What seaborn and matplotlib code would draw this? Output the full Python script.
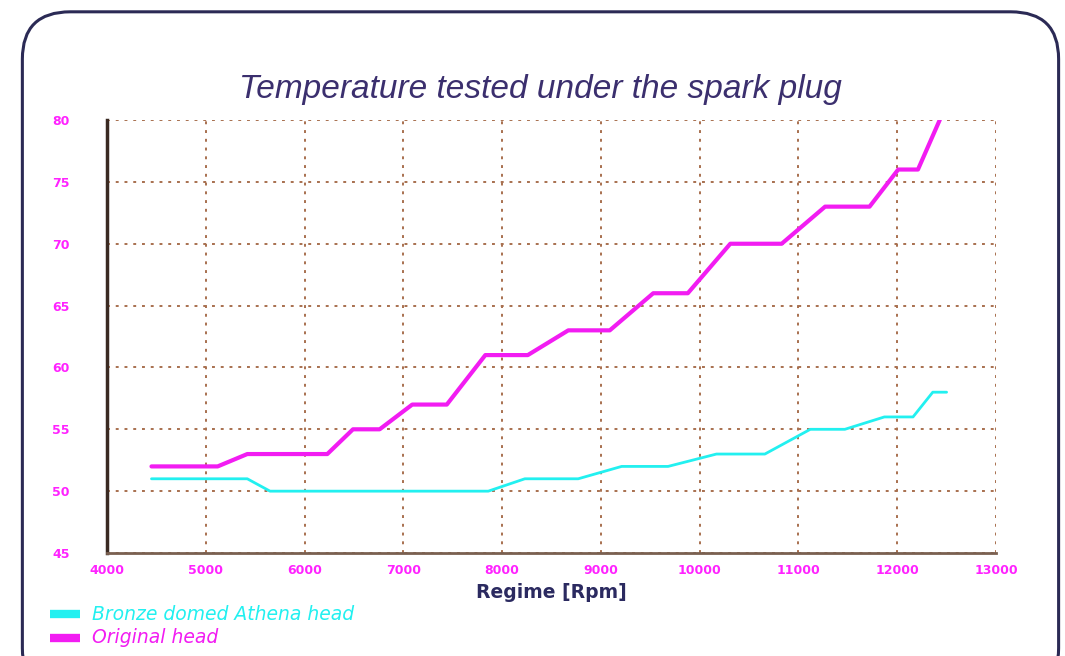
import numpy as np
import pandas as pd
import matplotlib
matplotlib.use('Agg')
import matplotlib.pyplot as plt
import seaborn as sns
from matplotlib.patches import FancyBboxPatch

bronze_rpm = [4450, 5420, 5650, 7860, 8230, 8770, 9210, 9680, 10170, 10660, 11120, 11470, 11870, 12160, 12360, 12500]
bronze_temp = [51, 51, 50, 50, 51, 51, 52, 52, 53, 53, 55, 55, 56, 56, 58, 58]
original_rpm = [4450, 5120, 5420, 6230, 6490, 6760, 7090, 7440, 7830, 8260, 8670, 9090, 9530, 9880, 10310, 10830, 11270, 11720, 12010, 12210, 12430]
original_temp = [52, 52, 53, 53, 55, 55, 57, 57, 61, 61, 63, 63, 66, 66, 70, 70, 73, 73, 76, 76, 80]
series_names = ['Bronze domed Athena head', 'Original head']
series_colors = ['#22f0f0', '#f21cf2']
x_ticks = list(range(4000, 13001, 1000))
y_ticks = list(range(45, 81, 5))

df = pd.concat([
    pd.DataFrame({'rpm': bronze_rpm, 'temp': bronze_temp, 'series': series_names[0]}),
    pd.DataFrame({'rpm': original_rpm, 'temp': original_temp, 'series': series_names[1]}),
], ignore_index=True)

sns.set_theme(style='white')
plt.rcParams['font.family'] = ['DejaVu Sans']

fig = plt.figure(figsize=(10.65, 6.56), dpi=100)
ax = fig.add_axes([0.1005, 0.157, 0.8347, 0.66])

# Rahmen mit runden Ecken
frame = FancyBboxPatch((0.021, -0.06), 0.973, 1.042, boxstyle='round,pad=0,rounding_size=0.045',
                       transform=fig.transFigure, facecolor='none', edgecolor='#2b2a55', lw=2.2,
                       mutation_aspect=1.6)
fig.patches.append(frame)

sns.lineplot(data=df, x='rpm', y='temp', hue='series', palette=dict(zip(series_names, series_colors)),
             ax=ax, legend=False, sort=False, estimator=None)
ax.lines[0].set_linewidth(2.0)
ax.lines[1].set_linewidth(3.0)

ax.set_xlim(4000, 13000)
ax.set_ylim(45, 80)
ax.set_xticks(x_ticks)
ax.set_yticks(y_ticks)
ax.grid(True, color='#a8704f', linestyle=(0, (1.5, 3.0)), linewidth=1.4)

for side in ['top', 'right']:
    ax.spines[side].set_visible(False)
ax.spines['left'].set_color('#3a2a22')
ax.spines['left'].set_linewidth(2.5)
ax.spines['bottom'].set_color('#7a6050')
ax.spines['bottom'].set_linewidth(2.0)

ax.tick_params(axis='both', length=0, labelcolor='#ff22ff', labelsize=9)
ax.tick_params(axis='y', pad=27)
ax.tick_params(axis='x', pad=8)
for lab in ax.get_xticklabels() + ax.get_yticklabels():
    lab.set_fontweight('bold')

ax.set_xlabel('Regime [Rpm]', fontsize=13.5, fontweight='bold', color='#2b2a60', labelpad=4)
ax.set_ylabel('')

fig.text(0.507, 0.864, 'Temperature tested under the spark plug', ha='center', va='center',
         fontsize=24, style='italic', color='#3b2f6e', family=['Liberation Sans', 'DejaVu Sans'])

# Legende unten links
for i, (name, col) in enumerate(zip(series_names, series_colors)):
    y = 0.064 - i * 0.036
    fig.add_artist(plt.Line2D([0.047, 0.075], [y, y], color=col, lw=6, solid_capstyle='butt',
                              transform=fig.transFigure))
    fig.text(0.086, y, name, ha='left', va='center', fontsize=13.5, style='italic', color=col)

fig.savefig('out.png', dpi=100)
